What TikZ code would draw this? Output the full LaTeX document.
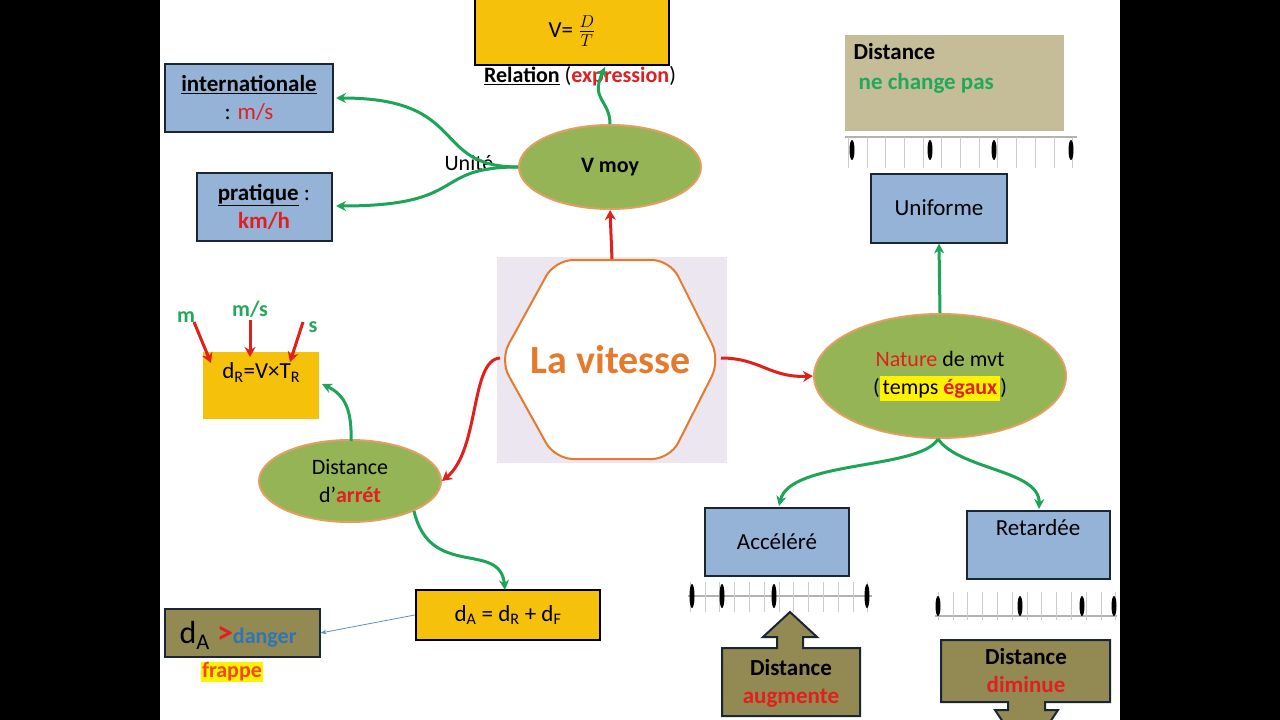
\documentclass[tikz,border=0pt]{standalone}
\usepackage{fontspec}
\setmainfont{Carlito}
\usetikzlibrary{arrows.meta,shapes.geometric}
\definecolor{gold}{HTML}{F5C10A}
\definecolor{bluebox}{HTML}{95B3D7}
\definecolor{olive}{HTML}{938953}
\definecolor{khaki}{HTML}{C4BD97}
\definecolor{ellg}{HTML}{94B455}
\definecolor{ellb}{HTML}{E0A060}
\definecolor{arrg}{HTML}{1CA457}
\definecolor{arrr}{HTML}{E0201B}
\definecolor{navy}{HTML}{1B2634}
\definecolor{txtr}{HTML}{E02020}
\definecolor{txtg}{HTML}{22A85A}
\definecolor{orng}{HTML}{E67A2C}
\definecolor{dblue}{HTML}{2E75B6}
\definecolor{lav}{HTML}{ECE6F0}
\begin{document}
\begin{tikzpicture}[x=1pt,y=-1pt,
  bluerect/.style={draw=navy,line width=2pt,fill=bluebox,font=\fontsize{23}{28}\selectfont,align=center},
  goldrect/.style={fill=gold,font=\fontsize{23}{28}\selectfont,align=center},
  ell/.style={ellipse,draw=ellb,line width=2pt,fill=ellg,align=center,font=\fontsize{22}{28}\selectfont},
  garr/.style={draw=arrg,line width=3pt,-{Stealth[length=10pt,width=10pt]}},
  rarr/.style={draw=arrr,line width=3pt,-{Stealth[length=10pt,width=11pt]}},
  olbox/.style={draw=navy,line width=2pt,fill=olive},
  oval/.style={fill=black,ellipse,minimum width=5pt,minimum height=20pt,inner sep=0pt}]
\useasboundingbox (0,0) rectangle (1280,720);
\fill[white] (0,0) rectangle (1280,720);
\fill[black] (0,0) rectangle (160,720);
\fill[black] (1120,0) rectangle (1280,720);
% hexagon
\fill[lav] (497,257) rectangle (727,463);
\draw[draw=orng,line width=2pt,fill=white,rounded corners=18pt] (555,260)--(670,260)--(720,360)--(670,459)--(555,459)--(500,360)--cycle;
\node (hex) at (611,360) {\fontsize{40}{44}\selectfont\bfseries\color{orng}La vitesse};
\coordinate (hexT) at (612,259);
\coordinate (hexL) at (500,358);
\coordinate (hexR) at (721,358);
% V moy
\node[ell,minimum width=182pt,minimum height=84pt] (vmoy) at (610,167) {\bfseries V moy};
\node[goldrect,draw=black,line width=2.5pt,minimum width=194pt,minimum height=68pt] (vdt) at (572,31) {V= $\frac{D}{T}$};
\node[font=\fontsize{22}{26}\selectfont] (rel) at (580,76) {\textbf{\underline{Relation}} (\textcolor{txtr}{\textbf{expression}})};
\node[bluerect,minimum width=168pt,minimum height=68pt] (inter) at (249,98) {\textbf{\underline{internationale}}\\: \textcolor{txtr}{m/s}};
\node[bluerect,minimum width=135pt,minimum height=68pt] (prat) at (264,207) {\textbf{\underline{pratique}} :\\\textcolor{txtr}{\textbf{km/h}}};
\node[font=\fontsize{22}{26}\selectfont] (unite) at (469,163) {Unité};
\draw[garr] (vmoy.west) .. controls (430,167) and (470,98) .. (336,98);
\draw[garr] (vmoy.west) .. controls (430,167) and (470,206) .. (336,206);
\draw[garr] (vmoy.north) .. controls (610,100) and (590,100) .. (605,67);
\draw[rarr] (hexT) -- (vmoy.south);
% Distance d'arret
\node[ell,minimum width=182pt,minimum height=82pt] (darr) at (350,481) {Distance\\d’\textcolor{txtr}{\textbf{arrét}}};
\draw[rarr] (hexL) .. controls (470,360) and (480,450) .. (darr.east);
\node[goldrect,minimum width=116pt,minimum height=67pt,text depth=30pt,anchor=north west] (dr) at (203,352) {d\textsubscript{R}=V×T\textsubscript{R}};
\draw[garr] (351,441) .. controls (352,410) and (345,395) .. (322,384);
\node[font=\fontsize{22}{26}\selectfont\bfseries,text=txtg] (lm) at (186,317) {m};
\node[font=\fontsize{22}{26}\selectfont\bfseries,text=txtg] (lms) at (250,309) {m/s};
\node[font=\fontsize{22}{26}\selectfont\bfseries,text=txtg] (ls) at (313,327) {s};
\draw[rarr] (194,322) -- (211,363);
\draw[rarr] (250,320) -- (250,357);
\draw[rarr] (303,322) -- (290,362);
\node[goldrect,draw=black,line width=2.5pt,minimum width=184pt,minimum height=50pt] (da) at (508,615) {d\textsubscript{A} = d\textsubscript{R} + d\textsubscript{F}};
\draw[garr] (414,511) .. controls (430,580) and (500,540) .. (505,590);
\node[olbox,minimum width=155pt,minimum height=48pt] (dang) at (242,633) {};
\node[anchor=west] at (176,635) {\fontsize{32}{34}\selectfont d\textsubscript{A} \textcolor{txtr}{\textbf{>}}\fontsize{22}{26}\selectfont\textcolor{dblue}{\textbf{danger}}};
\draw[draw=dblue!80,line width=0.8pt,-{Stealth[length=6pt]}] (da.west) -- (dang.east);
\node[fill=yellow,inner sep=1pt,font=\fontsize{22}{26}\selectfont\bfseries,text=orng!60!red] (frap) at (232,672) {frappe};
% Nature
\node[ell,minimum width=252pt,minimum height=124pt] (nat) at (940,376) {\textcolor{txtr}{Nature} de mvt\\(\colorbox{yellow}{temps \textcolor{txtr}{\textbf{égaux}}})};
\draw[rarr] (hexR) .. controls (760,358) and (770,378) .. (nat.west);
\node[bluerect,minimum width=136pt,minimum height=69pt] (unif) at (939,208) {Uniforme};
\draw[garr] (nat.north) -- (unif.south);
\node[fill=khaki,minimum width=219pt,minimum height=96pt,anchor=north west] (nechg) at (845,35) {};
\node[anchor=north west,font=\fontsize{23}{28}\selectfont,align=left] at (850,40) {\textbf{Distance}\\[2pt]\ \textcolor{txtg}{\textbf{ne change pas}}};
\draw[gray!60,line width=1.5pt] (845,137) -- (1077,137);
\foreach \i in {0,...,12} \draw[gray!40] (848+18.7*\i,137) -- (848+18.7*\i,168);
\foreach \x in {852,930,994,1071} \node[oval] at (\x,150) {};
% Accelere
\node[bluerect,minimum width=144pt,minimum height=68pt] (acc) at (777,542) {Accéléré};
\node[bluerect,minimum width=143pt,minimum height=68pt,text depth=34pt] (ret) at (1038,545) {Retardée};
\draw[garr] (938,439) .. controls (920,470) and (790,460) .. (779,506);
\draw[garr] (938,439) .. controls (960,470) and (1040,470) .. (1039,509);
\draw[gray!60,line width=1.5pt] (688,596) -- (872,596);
\foreach \i in {0,...,12} \draw[gray!40] (690+14.8*\i,582) -- (690+14.8*\i,612);
\foreach \x in {692,722,774,867} \node[oval,minimum height=24pt] at (\x,596) {};
\draw[gray!60,line width=1.5pt] (935,616) -- (1117,616);
\foreach \i in {0,...,12} \draw[gray!40] (938+14.8*\i,592) -- (938+14.8*\i,620);
\foreach \x in {938,1020,1082,1114} \node[oval] at (\x,606) {};
% callouts
\draw[olbox] (722,648) -- (777,648) -- (777,637) -- (763,637) -- (790,612) -- (817,637) -- (803,637) -- (803,648) -- (860,648) -- (860,716) -- (722,716) -- cycle;
\node[font=\fontsize{23}{28}\selectfont,align=center] (aug) at (791,683) {\textbf{Distance}\\\textcolor{txtr}{\textbf{augmente}}};
\draw[olbox] (941,640) -- (1110,640) -- (1110,702) -- (1045,702) -- (1045,710) -- (1058,710) -- (1050,722) -- (1003,722) -- (995,710) -- (1008,710) -- (1008,702) -- (941,702) -- cycle;
\node[font=\fontsize{23}{28}\selectfont,align=center] (dim) at (1026,671) {\textbf{Distance}\\\textcolor{txtr}{\textbf{diminue}}};
\end{tikzpicture}
\end{document}
